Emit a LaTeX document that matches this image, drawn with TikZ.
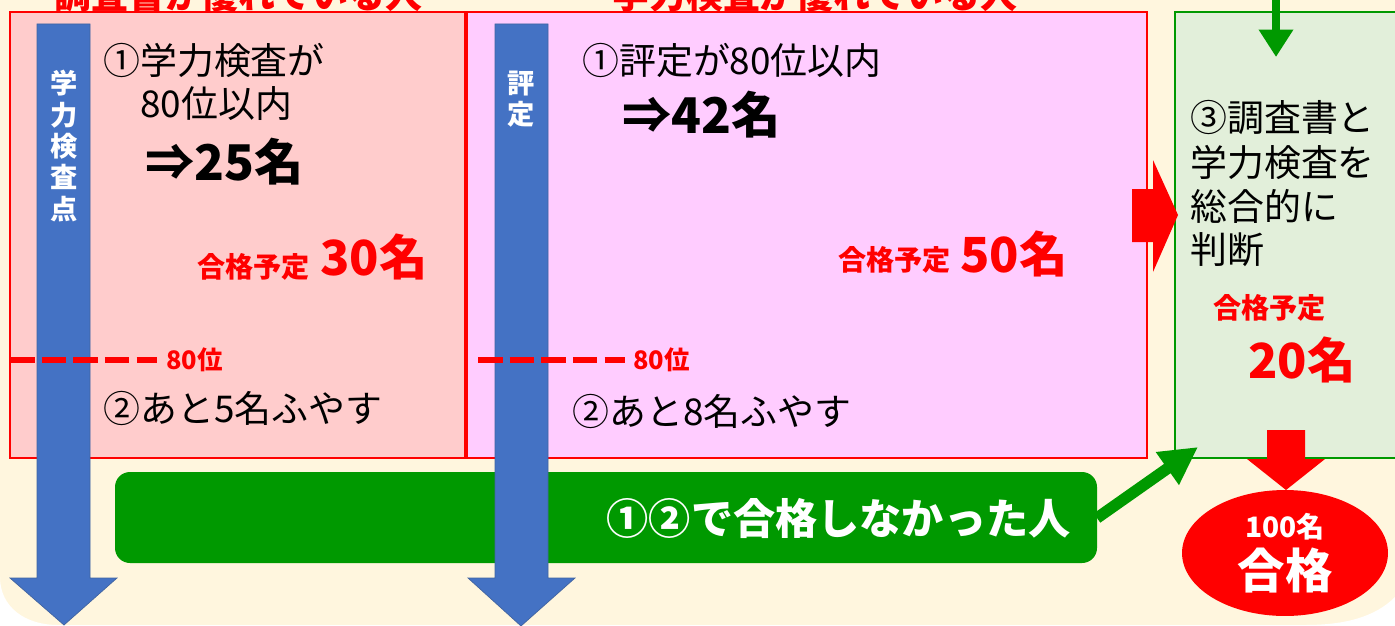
\documentclass[tikz,border=0pt]{standalone}
\usepackage{fontspec}
\setmainfont{Noto Sans CJK JP}
\usetikzlibrary{calc,arrows.meta,shapes.geometric,positioning}
\definecolor{cream}{RGB}{255,246,222}
\definecolor{pinkA}{RGB}{255,204,204}
\definecolor{pinkB}{RGB}{255,204,255}
\definecolor{paleGreen}{RGB}{226,239,218}
\definecolor{darkGreen}{RGB}{0,153,0}
\definecolor{barBlue}{RGB}{68,114,196}
\definecolor{barEdge}{RGB}{65,100,160}
\tikzset{
  body/.style={inner sep=0pt, anchor=west, font=\fontsize{21}{26}\selectfont},
  result/.style={inner sep=0pt, anchor=west, font=\bfseries\fontsize{28}{32}\selectfont},
  plansmall/.style={inner sep=0pt, anchor=west, text=red, font=\bfseries\fontsize{16}{18}\selectfont},
  planbig/.style={inner sep=0pt, anchor=west, text=red, font=\bfseries\fontsize{27.5}{32}\selectfont},
  rank/.style={inner sep=0pt, anchor=west, text=red, font=\bfseries\fontsize{14.5}{17}\selectfont},
  vlabel/.style={inner sep=0pt, text=white, align=center, font=\bfseries\fontsize{15.5}{17.8}\selectfont},
  headline/.style={inner sep=0pt, anchor=west, text=red, font=\bfseries\fontsize{21}{24}\selectfont},
  rankline/.style={red, line width=3.4pt, dash pattern=on 14pt off 4pt},
  bluearrow/.style={fill=barBlue, draw=barEdge, line width=0.4pt},
}
\begin{document}
\begin{tikzpicture}[x=0.02cm, y=-0.02cm]
		%%%%% START %%%%%
		\useasboundingbox (0,0) rectangle (1395,625);
		\clip (0,0) rectangle (1395,625);

		% background
		\fill[cream] (0,0) rectangle (1395,625);
		\fill[white] (0,577) .. controls (0,607) and (25,625) .. (58,625) -- (0,625) -- cycle;
		\fill[white] (1305,625) .. controls (1345,625) and (1375,617) .. (1395,597) -- (1395,625) -- cycle;

		% headings (cut by the top edge)
		\node[headline] (headA) at (54,-6) {調査書が優れている人};
		\node[headline] (headB) at (612,-6) {学力検査が優れている人};

		% the three boxes
		\draw[line width=1.2pt, red, fill=pinkA] (10,12) rectangle (465,458);
		\draw[line width=1.2pt, red, fill=pinkB] (467,12) rectangle (1147,458);
		\draw[line width=1.2pt, darkGreen, fill=paleGreen] (1175,12) rectangle (1420,458);

		% green bar
		\fill[darkGreen, rounded corners=0.3cm] (115,472) rectangle (1097,563);
		\coordinate (barEnd) at (1097,518);
		\coordinate (boxCorner) at (1198,447);
		\node[inner sep=0pt, anchor=east, text=white, font=\bfseries\fontsize{24}{28}\selectfont] (failed) at (1071,518) {①②で合格しなかった人};
		\draw[darkGreen, line width=6.5pt, -{Triangle[length=0.75cm, width=0.75cm]}] (barEnd) -- (boxCorner);

		% blue arrows
		\draw[bluearrow] (37,24) -- (90,24) -- (90,578) -- (117,578) -- (64,625) -- (10,578) -- (37,578) -- cycle;
		\draw[bluearrow] (495,24) -- (548,24) -- (548,578) -- (575,578) -- (521,626) -- (468,578) -- (495,578) -- cycle;
		\node[vlabel] (scoreTag) at (64,146) {学\\力\\検\\査\\点};
		\node[vlabel] (gradeTag) at (521,99) {評\\定};

		% box 1
		\node[body] (stepA) at (103,60) {①学力検査が};
		\node[body] (stepAb) at (140,104) {80位以内};
		\node[result] (resA) at (145,162) {⇒25名};
		\node[plansmall] (planA) at (197,267) {合格予定};
		\node[planbig] (numA) at (320,257) {30名};
		\draw[rankline] (10,360) -- (157,360);
		\node[rank] (rankA) at (166,360) {80位};
		\node[body] (moreA) at (103,408) {②あと5名ふやす};

		% box 2
		\node[body] (stepB) at (582,60) {①評定が80位以内};
		\node[result] (resB) at (622,115) {⇒42名};
		\node[plansmall] (planB) at (838,260) {合格予定};
		\node[planbig] (numB) at (960,254) {50名};
		\draw[rankline] (478,360) -- (625,360);
		\node[rank] (rankB) at (633,360) {80位};
		\node[body] (moreB) at (572,411) {②あと8名ふやす};

		% box 3
		\node[body] (judge1) at (1190,117) {③調査書と};
		\node[body] (judge2) at (1190,162) {学力検査を};
		\node[body] (judge3) at (1190,206) {総合的に};
		\node[body] (judge4) at (1190,250) {判断};
		\node[plansmall] (planC) at (1213,308) {合格予定};
		\node[planbig] (numC) at (1248,360) {20名};

		% arrows into and out of box 3
		\coordinate (topIn) at (1276,-2);
		\coordinate (topTip) at (1276,57);
		\draw[darkGreen, line width=4.5pt, -{Triangle[length=0.55cm, width=0.66cm]}] (topIn) -- (topTip);
		\fill[red] (1132,189) -- (1153,189) -- (1153,160) -- (1178,215) -- (1153,272) -- (1153,242) -- (1132,242) -- cycle;
		\fill[red] (1267,430) -- (1305,430) -- (1305,459) -- (1325,459) -- (1286,490) -- (1247,459) -- (1267,459) -- cycle;

		% result
		\node[ellipse, fill=red, minimum width=4.12cm, minimum height=2.52cm, inner sep=0pt] (pass) at (1285,553) {};
		\node[inner sep=0pt, text=white, font=\bfseries\fontsize{16}{18}\selectfont] (passNum) at (1285,527) {100名};
		\node[inner sep=0pt, text=white, font=\bfseries\fontsize{27}{30}\selectfont] (passWord) at (1285,570) {合格};
		%%%%% END %%%%%
\end{tikzpicture}
\end{document}
